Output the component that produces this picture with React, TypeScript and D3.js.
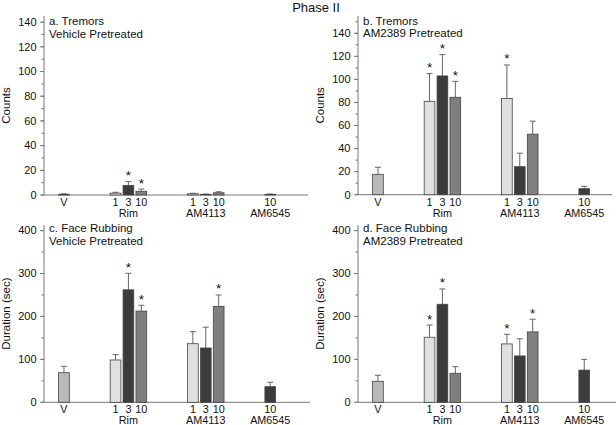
import * as d3 from "d3"

// bar order inside every panel
const categories = ["V", "Rim 1", "Rim 3", "Rim 10", "AM4113 1", "AM4113 3", "AM4113 10", "AM6545 10"]
const doseLabels = ["V", "1", "3", "10", "1", "3", "10", "10"]
const barColors = ["#b9b9b9", "#e0e0e0", "#3c3c3c", "#7f7f7f", "#e0e0e0", "#3c3c3c", "#7f7f7f", "#3c3c3c"]

// x slots, with empty slots between the drug groups
const slots = ["V", "g1", "g2", "g3", "Rim 1", "Rim 3", "Rim 10", "g4", "g5", "g6",
  "AM4113 1", "AM4113 3", "AM4113 10", "g7", "g8", "g9", "AM6545 10"]
const groupNames = ["Rim", "AM4113", "AM6545"]
const groupAnchors = ["Rim 3", "AM4113 3", "AM6545 10"]

// a. tremors, vehicle pretreated
const tremorsVehicle = [0.6, 1.5, 7.8, 3.0, 1.0, 0.5, 1.8, 0.5]
const tremorsVehicleErr = [0.3, 0.7, 3.0, 1.8, 0.4, 0.3, 0.8, 0.3]
const tremorsVehicleSig = [false, false, true, true, false, false, false, false]

// b. tremors, AM2389 pretreated
const tremorsAM2389 = [17.7, 81, 103, 84.5, 83.5, 24.3, 52.5, 5.2]
const tremorsAM2389Err = [6.1, 24, 18.5, 13.8, 29, 11.7, 11.3, 2.1]
const tremorsAM2389Sig = [false, true, true, true, true, false, false, false]

// c. face rubbing, vehicle pretreated
const faceVehicle = [69, 98.6, 262, 212.5, 136.5, 126.5, 223.5, 36.4]
const faceVehicleErr = [15, 12.5, 38.5, 13.5, 28, 48.5, 26.5, 10.2]
const faceVehicleSig = [false, false, true, true, false, false, true, false]

// d. face rubbing, AM2389 pretreated
const faceAM2389 = [49, 151.5, 228.4, 67.6, 136, 108, 164, 75]
const faceAM2389Err = [14, 28.5, 35.6, 15.4, 22.5, 40, 29.5, 25]
const faceAM2389Sig = [false, true, true, false, true, false, true, false]

const tremorTicks = [0, 20, 40, 60, 80, 100, 120, 140]
const faceTicks = [0, 100, 200, 300, 400]

const font = "'Liberation Sans', Arial, sans-serif"

type PanelProps = {
  title: string
  subtitle: string
  yLabel: string
  values: number[]
  errors: number[]
  sig: boolean[]
  yMax: number
  ticks: number[]
  minorStep: number
  left: number
  right: number
  top: number
  bottom: number
}

const Panel = (p: PanelProps) => {
  const x = d3
    .scaleBand<string>()
    .domain(slots)
    .range([p.left + 14.6, p.left + 231.6])
    .paddingInner(0.17)
  const y = d3.scaleLinear().domain([0, p.yMax]).range([p.bottom, p.top])
  const minor = d3.range(0, p.yMax, p.minorStep)
  const bw = x.bandwidth()
  return (
    <g>
      {minor.map((t) => (
        <line key={"m" + t} x1={p.left - 2.5} x2={p.left} y1={y(t)} y2={y(t)} stroke="#777" />
      ))}
      {p.ticks.map((t) => (
        <g key={"t" + t}>
          <line x1={p.left - 4} x2={p.left} y1={y(t)} y2={y(t)} stroke="#777" />
          <text x={p.left - 7.5} y={y(t)} dy="0.35em" textAnchor="end" fontSize={11}>
            {t}
          </text>
        </g>
      ))}
      <line x1={p.left} x2={p.left} y1={p.top} y2={p.bottom} stroke="#777" />
      <line x1={p.left} x2={p.right} y1={p.bottom} y2={p.bottom} stroke="#777" />
      <text
        transform={`translate(${p.left - 34},${(p.top + p.bottom) / 2}) rotate(-90)`}
        textAnchor="middle"
        fontSize={11.5}
      >
        {p.yLabel}
      </text>
      <text x={p.left + 5} y={p.bottom - 170} fontSize={11.5}>
        {p.title}
      </text>
      <text x={p.left + 5} y={p.bottom - 157.5} fontSize={11.5}>
        {p.subtitle}
      </text>
      {categories.map((c, i) => {
        const x0 = x(c) as number
        const cx = x0 + bw / 2
        const top = y(p.values[i] + p.errors[i])
        return (
          <g key={c}>
            <line x1={cx} x2={cx} y1={y(p.values[i])} y2={top} stroke="#666" />
            <line x1={cx - 3} x2={cx + 3} y1={top} y2={top} stroke="#666" />
            <rect
              x={x0}
              y={y(p.values[i])}
              width={bw}
              height={p.bottom - y(p.values[i])}
              fill={barColors[i]}
              stroke="#444"
              strokeWidth={0.8}
            />
            {p.sig[i] && (
              <text x={cx} y={top - 1.5} textAnchor="middle" fontSize={13.5}>
                *
              </text>
            )}
            <text x={cx} y={p.bottom + 10.8} textAnchor="middle" fontSize={10.8}>
              {doseLabels[i]}
            </text>
          </g>
        )
      })}
      {groupNames.map((g, i) => (
        <text
          key={g}
          x={(x(groupAnchors[i]) as number) + bw / 2}
          y={p.bottom + 22}
          textAnchor="middle"
          fontSize={10.8}
        >
          {g}
        </text>
      ))}
    </g>
  )
}

const App = () => {
  return (
    <svg
      width={616}
      height={425}
      style={{position: "absolute", left: 0, top: 0, background: "#fff"}}
      fontFamily={font}
      fill="#111"
    >
      <text x={316} y={12} textAnchor="middle" fontSize={13}>
        Phase II
      </text>
      <Panel
        title="a. Tremors"
        subtitle="Vehicle Pretreated"
        yLabel="Counts"
        values={tremorsVehicle}
        errors={tremorsVehicleErr}
        sig={tremorsVehicleSig}
        yMax={145}
        ticks={tremorTicks}
        minorStep={10}
        left={44}
        right={308}
        top={16}
        bottom={195}
      />
      <Panel
        title="b. Tremors"
        subtitle="AM2389 Pretreated"
        yLabel="Counts"
        values={tremorsAM2389}
        errors={tremorsAM2389Err}
        sig={tremorsAM2389Sig}
        yMax={155}
        ticks={tremorTicks}
        minorStep={10}
        left={358}
        right={612}
        top={16}
        bottom={194.7}
      />
      <Panel
        title="c. Face Rubbing"
        subtitle="Vehicle Pretreated"
        yLabel="Duration (sec)"
        values={faceVehicle}
        errors={faceVehicleErr}
        sig={faceVehicleSig}
        yMax={413}
        ticks={faceTicks}
        minorStep={50}
        left={44}
        right={310}
        top={225}
        bottom={402.3}
      />
      <Panel
        title="d. Face Rubbing"
        subtitle="AM2389 Pretreated"
        yLabel="Duration (sec)"
        values={faceAM2389}
        errors={faceAM2389Err}
        sig={faceAM2389Sig}
        yMax={413}
        ticks={faceTicks}
        minorStep={50}
        left={358}
        right={616}
        top={225}
        bottom={402.3}
      />
    </svg>
  )
}

export default App
